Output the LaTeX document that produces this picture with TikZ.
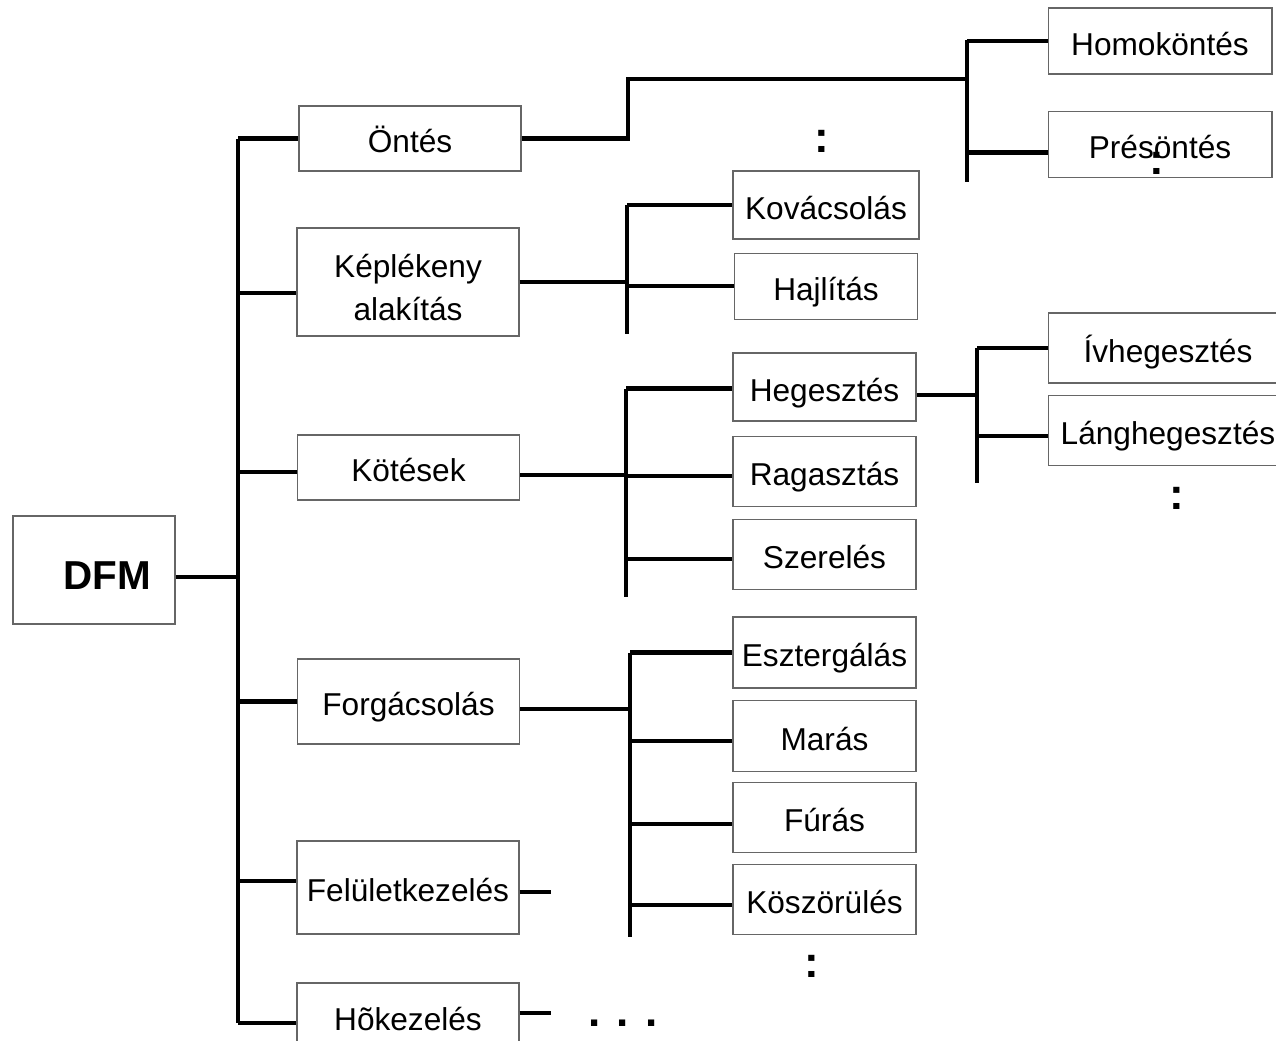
\documentclass[tikz,border=0pt]{standalone}
\usepackage{fontspec}
\setmainfont{Liberation Sans}
\usetikzlibrary{positioning}

\begin{document}
\begin{tikzpicture}[x=0.02cm, y=-0.02cm,
          box/.style={
            draw=black!60, line width=0.6pt, align=center,
            inner sep=2pt, text height=17pt, text depth=0.5pt,
            font=\fontsize{18}{24.5}\selectfont},
          topbox/.style={box, minimum width=4.44cm, minimum height=1.3cm},
          subbox/.style={box, minimum width=3.66cm, minimum height=1.4cm},
          leafbox/.style={box, minimum width=4.48cm, minimum height=1.32cm},
          conn/.style={line width=2.6pt},
          more/.style={inner sep=0pt, font=\fontsize{25}{25}\selectfont\bfseries}
        ]
        \clip (0,0) rectangle (1276,1041);
        \node[box, minimum width=3.24cm, minimum height=2.16cm,
          text height=22.7pt, text depth=0pt,
          font=\fontsize{23}{23}\selectfont\bfseries] (dfm) at (94,570)
          {\hspace*{0.54cm}DFM};
        \node[topbox] (oentes) at (410,138.5) {Öntés};
        \node[topbox, minimum height=2.16cm, text height=44pt, text depth=0pt] (kepl)
          at (408,282) {Képlékeny\\alakítás};
        \node[topbox] (kotes) at (408.5,467.5) {Kötések};
        \node[topbox, minimum height=1.7cm] (forg) at (408.5,701.5) {Forgácsolás};
        \node[topbox, minimum height=1.86cm] (felulet) at (408,887.5) {Felületkezelés};
        \node[topbox] (hokez) at (408,1015.5) {Hõkezelés};
        \node[leafbox] (homok) at (1160,41) {Homoköntés};
        \node[leafbox, below=0.72cm of homok] (presh) {Présöntés};
        \node[subbox, minimum width=3.72cm, minimum height=1.36cm] (kova) at (826,205)
          {Kovácsolás};
        \node[subbox, minimum height=1.32cm, below=0.26cm of kova] (hajl) {Hajlítás};
        \node[subbox, minimum height=1.36cm] (heg) at (824.5,387) {Hegesztés};
        \node[subbox, below=0.28cm of heg] (rag) {Ragasztás};
        \node[subbox, below=0.24cm of rag] (szer) {Szerelés};
        \node[leafbox, minimum width=4.8cm, minimum height=1.4cm] (iv) at (1168,348)
          {Ívhegesztés};
        \node[leafbox, minimum width=4.8cm, minimum height=1.4cm, below=0.22cm of iv] (lang)
          {Lánghegesztés};
        \node[subbox, minimum height=1.42cm] (esz) at (824.5,652.5) {Esztergálás};
        \node[subbox, minimum height=1.42cm, below=0.22cm of esz] (mar) {Marás};
        \node[subbox, below=0.2cm of mar] (fur) {Fúrás};
        \node[subbox, below=0.22cm of fur] (kos) {Köszörülés};
        \node[more] (dots1) at (822,141) {:};
        \node[more] (dots2) at (1157,163) {:};
        \node[more] (dots3) at (1177,498) {:};
        \node[more] (dots4) at (812,966) {:};
        \node[more] (dots5) at (623,1023) {. . .};
        \coordinate (trunk) at (238,0);
        \coordinate (oentes-bend) at (628,79);
        \coordinate (oentes-bus) at (967,40);
        \coordinate (oentes-end) at (967,182);
        \coordinate (kepl-bus) at (627,0);
        \coordinate (kepl-end) at (627,334);
        \coordinate (kotes-bus) at (626,0);
        \coordinate (kotes-end) at (626,597);
        \coordinate (heg-bus) at (977,0);
        \coordinate (heg-end) at (977,483);
        \coordinate (forg-bus) at (630,0);
        \coordinate (forg-end) at (630,937);
        \coordinate (felulet-stub) at (551,892);
        \coordinate (hokez-stub) at (551,1013);
        \coordinate (dfm-out) at ([yshift=-4pt]dfm.east);
        \coordinate (kepl-in) at ([yshift=-6.2pt]kepl.west);
        \coordinate (kotes-in) at ([yshift=-2.5pt]kotes.west);
        \coordinate (kotes-out) at ([yshift=-4.25pt]kotes.east);
        \coordinate (forg-out) at ([yshift=-4.25pt]forg.east);
        \coordinate (felulet-in) at ([yshift=3.7pt]felulet.west);
        \coordinate (hokez-in) at ([yshift=-4.25pt]hokez.west);
        \coordinate (presh-in) at ([yshift=-4.8pt]presh.west);
        \coordinate (heg-in) at ([yshift=-1pt]heg.west);
        \coordinate (heg-out) at ([yshift=-4.5pt]heg.east);
        \coordinate (rag-in) at ([yshift=-2.8pt]rag.west);
        \coordinate (szer-in) at ([yshift=-2.8pt]szer.west);
        \coordinate (lang-in) at ([yshift=-3.4pt]lang.west);
        \coordinate (mar-in) at ([yshift=-3.1pt]mar.west);
        \coordinate (fur-in) at ([yshift=-4pt]fur.west);
        \coordinate (kos-in) at ([yshift=-3.4pt]kos.west);
        \draw[conn] (dfm-out) -- (trunk |- dfm-out);
        \draw[conn] (trunk |- oentes.west) -- (trunk |- hokez-in);
        \draw[conn] (trunk |- oentes.west) -- (oentes.west);
        \draw[conn] (trunk |- kepl-in) -- (kepl-in);
        \draw[conn] (trunk |- kotes-in) -- (kotes-in);
        \draw[conn] (trunk |- forg.west) -- (forg.west);
        \draw[conn] (trunk |- felulet-in) -- (felulet-in);
        \draw[conn] (trunk |- hokez-in) -- (hokez-in);
        \draw[conn] (oentes.east) -| (oentes-bend) -- (oentes-bend -| oentes-bus);
        \draw[conn] (oentes-bus) -- (oentes-end);
        \draw[conn] (oentes-bus |- homok.west) -- (homok.west);
        \draw[conn] (oentes-bus |- presh-in) -- (presh-in);
        \draw[conn] (kepl.east) -- (kepl-bus |- kepl.east);
        \draw[conn] (kepl-bus |- kova.west) -- (kepl-end);
        \draw[conn] (kepl-bus |- kova.west) -- (kova.west);
        \draw[conn] (kepl-bus |- hajl.west) -- (hajl.west);
        \draw[conn] (kotes-out) -- (kotes-bus |- kotes-out);
        \draw[conn] (kotes-bus |- heg-in) -- (kotes-end);
        \draw[conn] (kotes-bus |- heg-in) -- (heg-in);
        \draw[conn] (kotes-bus |- rag-in) -- (rag-in);
        \draw[conn] (kotes-bus |- szer-in) -- (szer-in);
        \draw[conn] (heg-out) -- (heg-bus |- heg-out);
        \draw[conn] (heg-bus |- iv.west) -- (heg-end);
        \draw[conn] (heg-bus |- iv.west) -- (iv.west);
        \draw[conn] (heg-bus |- lang-in) -- (lang-in);
        \draw[conn] (forg-out) -- (forg-bus |- forg-out);
        \draw[conn] (forg-bus |- esz.west) -- (forg-end);
        \draw[conn] (forg-bus |- esz.west) -- (esz.west);
        \draw[conn] (forg-bus |- mar-in) -- (mar-in);
        \draw[conn] (forg-bus |- fur-in) -- (fur-in);
        \draw[conn] (forg-bus |- kos-in) -- (kos-in);
        \draw[conn] (felulet.east |- felulet-stub) -- (felulet-stub);
        \draw[conn] (hokez.east |- hokez-stub) -- (hokez-stub);
      \end{tikzpicture}
\end{document}
